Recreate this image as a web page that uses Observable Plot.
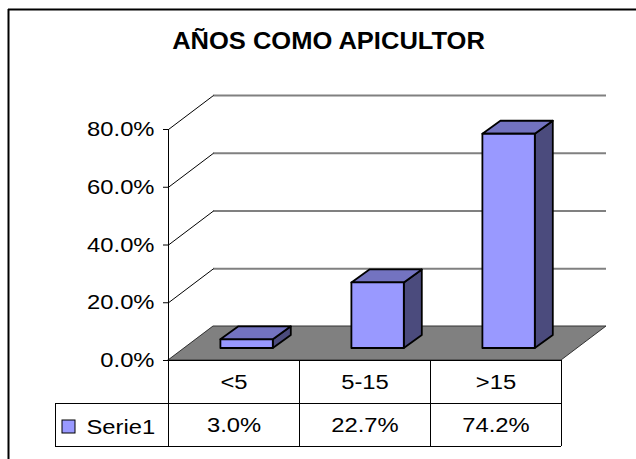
<!DOCTYPE html>
<html>
<head>
<meta charset="utf-8">
<script src="https://cdn.jsdelivr.net/npm/d3@7"></script>
<script src="https://cdn.jsdelivr.net/npm/@observablehq/plot@0.6"></script>
<style>
  html, body { margin: 0; padding: 0; background: #fff; }
</style>
</head>
<body>
<script>
// ---- data ----
const title = "AÑOS COMO APICULTOR";
const categories = ["<5", "5-15", ">15"];
const values = [3.0, 22.7, 74.2];
const seriesName = "Serie1";
const yTicks = [0, 20, 40, 60, 80];

// ---- layout (pixels) ----
const W = 636, H = 459;
const mL = 168, mR = 75, mT = 129, mB = 99;
const kx = (W - mL - mR) / categories.length;   // px per category
const ky = (H - mT - mB) / 80;                  // px per percent
const X = px => (px - mL) / kx;
const Y = py => (H - mB - py) / ky;
const fdx = 45 / kx, fdy = 34 / ky;             // floor depth
const bdx = 18 / kx, bdy = 13 / ky;             // bar depth
const BAR_A = 0.40, BAR_B = 0.80;
const n = categories.length;
const fmt = d => d.toFixed(1) + "%";

const bars = categories.map((c, i) => ({c, v: values[i], x1: i + BAR_A, x2: i + BAR_B}));
const topFaces = bars.flatMap(b => [
  {z: b.c, x: b.x1, y1: b.v, y2: b.v},
  {z: b.c, x: b.x1 + bdx, y1: b.v, y2: b.v + bdy},
  {z: b.c, x: b.x2, y1: b.v, y2: b.v + bdy},
  {z: b.c, x: b.x2 + bdx, y1: b.v + bdy, y2: b.v + bdy}
]);
const sideFaces = bars.flatMap(b => [
  {z: b.c, x: b.x2, y1: 0, y2: b.v},
  {z: b.c, x: b.x2 + bdx, y1: bdy, y2: b.v + bdy}
]);
const floor = [
  {x: 0, y1: 0, y2: 0},
  {x: fdx, y1: 0, y2: fdy},
  {x: n, y1: 0, y2: fdy},
  {x: n + fdx, y1: fdy, y2: fdy}
];

const FONT = "'Liberation Sans', Arial, sans-serif";
const barStroke = {stroke: "#000", strokeWidth: 1.8, strokeLinejoin: "round", dy: -12};

const chart = Plot.plot({
  width: W, height: H,
  marginLeft: mL, marginRight: mR, marginTop: mT, marginBottom: mB,
  style: {fontFamily: FONT, fontSize: "20.5px", background: "#fff", color: "#000", overflow: "hidden"},
  x: {domain: [0, n], axis: null},
  y: {domain: [0, 80]},
  marks: [
    // outer chart border
    Plot.ruleX([X(8)], {y1: Y(9), y2: Y(480), stroke: "#000", strokeWidth: 2}),
    Plot.ruleY([Y(9)], {x1: X(8), x2: X(660), stroke: "#000", strokeWidth: 2}),
    // back wall gridlines
    Plot.ruleY(yTicks.filter(d => d > 0), {y: d => d + fdy, x1: fdx, x2: n + fdx, stroke: "#808080", strokeWidth: 1.8}),
    // side wall diagonals
    Plot.link(yTicks, {x1: 0, y1: d => d, x2: fdx, y2: d => d + fdy, stroke: "#000", strokeWidth: 1}),
    // floor
    Plot.areaY(floor, {x: "x", y1: "y1", y2: "y2", fill: "#808080", stroke: "#333", strokeWidth: 1}),
    // y axis
    Plot.ruleX([0], {y1: 0, y2: 80, stroke: "#000", strokeWidth: 1}),
    Plot.axisY(yTicks, {tickSize: 5, tickPadding: 9, tickFormat: fmt, fontSize: 20.5}),
    // bars: side, top, front
    Plot.areaY(sideFaces, {x: "x", y1: "y1", y2: "y2", z: "z", fill: "#4b4b7d", ...barStroke}),
    Plot.areaY(topFaces, {x: "x", y1: "y1", y2: "y2", z: "z", fill: "#7373c0", ...barStroke}),
    Plot.rect(bars, {x1: "x1", x2: "x2", y1: 0, y2: "v", fill: "#9999ff", ...barStroke}),
    // data table
    Plot.ruleY([0], {x1: 0, x2: n, stroke: "#000", strokeWidth: 1}),
    Plot.ruleX(d3.range(n + 1), {y1: 0, y2: Y(446), stroke: "#000", strokeWidth: 1}),
    Plot.ruleY([Y(403), Y(446)], {x1: X(55), x2: n, stroke: "#000", strokeWidth: 1}),
    Plot.ruleX([X(55)], {y1: Y(403), y2: Y(446), stroke: "#000", strokeWidth: 1}),
    Plot.text(categories, {x: (d, i) => i + 0.5, y: Y(381.5), text: d => d, fontSize: 20.5, lineAnchor: "middle"}),
    Plot.text(values, {x: (d, i) => i + 0.5, y: Y(425), text: fmt, fontSize: 20.5, lineAnchor: "middle"}),
    // legend key
    Plot.rect([seriesName], {x1: X(62), x2: X(75), y1: Y(433), y2: Y(420), fill: "#9999ff", stroke: "#000", strokeWidth: 1}),
    Plot.text([seriesName], {x: X(86), y: Y(427), text: d => d, textAnchor: "start", fontSize: 20.5, lineAnchor: "middle"}),
    // title
    Plot.text([title], {x: X(328), y: Y(41.5), text: d => d, fontSize: 23, fontWeight: "bold", lineAnchor: "middle"})
  ]
});
document.body.append(chart);

// widen glyphs horizontally around each label's anchor, to match the stretched original
chart.querySelectorAll("text").forEach(t => {
  const f = t.textContent === title ? 1.11 : 1.16;
  const tr = t.getAttribute("transform");
  if (tr) {
    t.setAttribute("transform", tr + ` scale(${f},1)`);
  } else {
    const x = +(t.getAttribute("x") || 0), y = +(t.getAttribute("y") || 0);
    t.removeAttribute("x"); t.removeAttribute("y");
    t.setAttribute("transform", `translate(${x},${y}) scale(${f},1)`);
  }
});
</script>
</body>
</html>
